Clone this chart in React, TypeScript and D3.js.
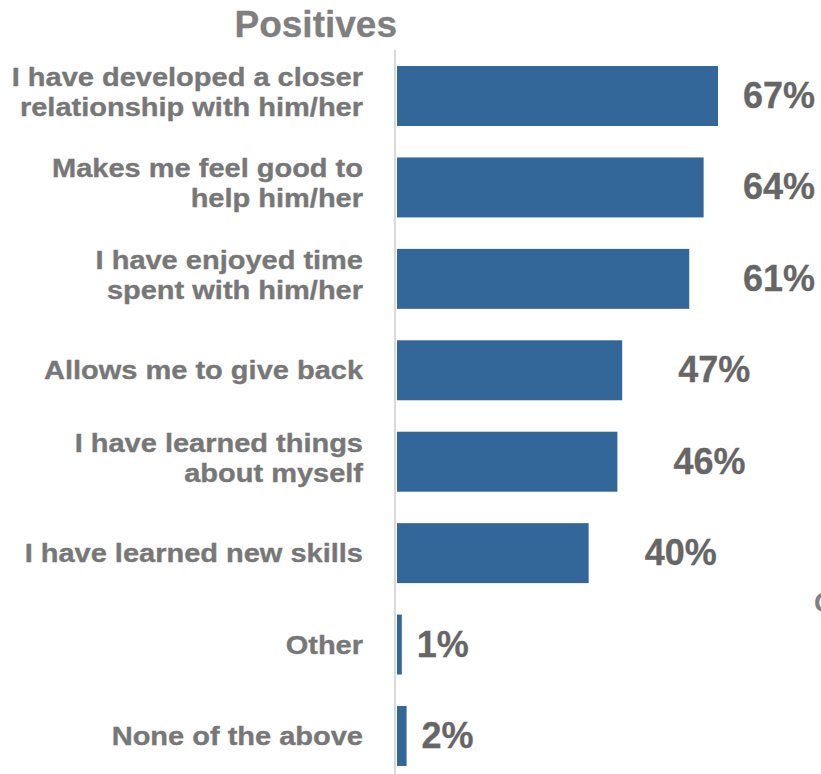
import React from "react";
import * as d3 from "d3";

const categories: string[][] = [
  ["I have developed a closer", "relationship with him/her"],
  ["Makes me feel good to", "help him/her"],
  ["I have enjoyed time", "spent with him/her"],
  ["Allows me to give back"],
  ["I have learned things", "about myself"],
  ["I have learned new skills"],
  ["Other"],
  ["None of the above"],
];
const values: number[] = [67, 64, 61, 47, 46, 40, 1, 2];
const title = "Positives";

const W = 821;
const H = 774;
const FONT = "'Liberation Sans', Arial, Helvetica, sans-serif";
const BAR = "#336699";

export default function App() {
  const idx = values.map((_, i) => String(i));
  const y = d3.scaleBand<string>().domain(idx).range([50.3, 781.7]).paddingInner(0.344).paddingOuter(0.172);
  const x = d3.scaleLinear().domain([0, 67]).range([397, 718]);
  const labelScale = 1.16;
  const pctSize = 36;
  const pctWidth = () => 2.0 * pctSize;

  return (
    <svg width={W} height={H} style={{ position: "absolute", left: 0, top: 0, background: "#fff" }} fontFamily={FONT}>
      <text x={397} y={37} textAnchor="end" fontSize={37} fontWeight="bold" fill="#7f7f7f" stroke="#7f7f7f" strokeWidth={0.3}>{title}</text>
      <line x1={395} x2={395} y1={50} y2={H} stroke="#d9d9d9" strokeWidth={2} />
      {values.map((v, i) => {
        const yc = (y(String(i)) as number) + y.bandwidth() / 2;
        const lines = categories[i];
        const end = x(v);
        const gap = v < 5 ? 15 : 56;
        const lbl = `${v}%`;
        const w = pctWidth();
        const lx = Math.min(end + gap, 815 - w);
        return (
          <g key={i}>
            <rect x={x(0)} y={y(String(i))} width={x(v) - x(0)} height={y.bandwidth()} fill={BAR} />
            {lines.map((ln, j) => {
              const by = lines.length === 1 ? yc + 9 : yc - 10 + j * 30;
              return (
                <text key={j} transform={`translate(363,${by}) scale(${labelScale},1)`} textAnchor="end" fontSize={25} fontWeight="bold" fill="#777777" stroke="#777777" strokeWidth={0.35}>{ln}</text>
              );
            })}
            <text x={lx} y={yc + 12} fontSize={pctSize} fontWeight="bold" fill="#666666" stroke="#666666" strokeWidth={0.3}>{lbl}</text>
          </g>
        );
      })}
      <text x={814} y={612} fontSize={28} fontWeight="bold" fill="#808080">C</text>
    </svg>
  );
}
